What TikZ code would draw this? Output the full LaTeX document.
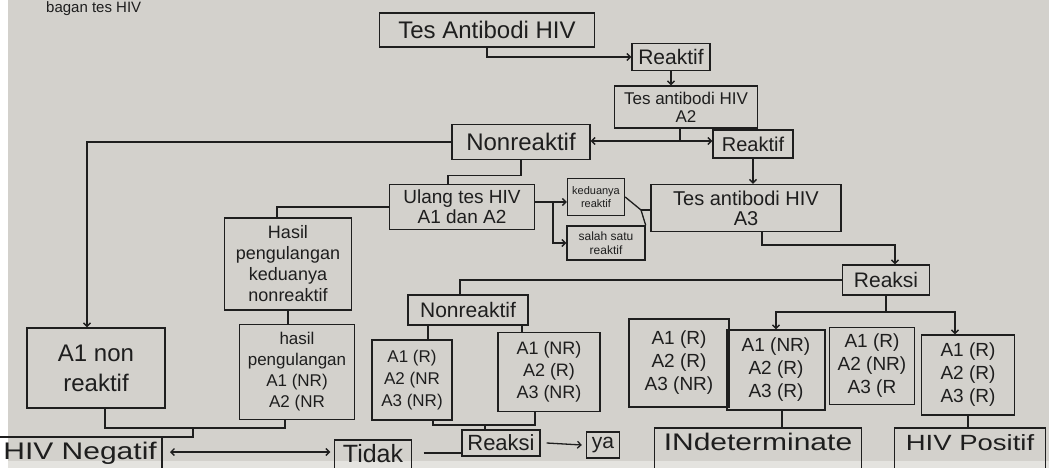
\documentclass[tikz,border=0pt]{standalone}
\usepackage{fontspec}
\setmainfont{Liberation Sans}
\newfontfamily\widefont{Liberation Sans}[FakeStretch=1.25]
\usetikzlibrary{arrows.meta}
\definecolor{board}{HTML}{D3D1CC}
\definecolor{boardlow}{HTML}{E4E3DF}
\definecolor{ink}{HTML}{1E1E1E}
\newcommand\myfs[2]{\fontsize{#1}{#2}\selectfont}
\tikzset{
  bx/.style={draw=ink, line width=1.4pt, align=center, inner sep=1pt, text=ink},
  openbx/.style={align=center, inner sep=1pt, text=ink, text depth=24pt, text height=21pt},
  ln/.style={draw=ink, line width=1.3pt},
  arr/.style={ln, -{Straight Barb[length=3.5pt,width=7pt]}},
  arrb/.style={ln, {Straight Barb[length=3.5pt,width=7pt]}-{Straight Barb[length=3.5pt,width=7pt]}},
}
\begin{document}
\begin{tikzpicture}[x=1pt,y=-1pt]
\fill[white] (0,0) rectangle (1049,468);
\fill[board] (8,0) rectangle (1049,461);
\fill[boardlow] (8,461) rectangle (1049,468);
\useasboundingbox (0,0) rectangle (1049,468);
\clip (0,0) rectangle (1049,468);

% title
\node[anchor=north west, text=ink, inner sep=1pt, font=\myfs{15}{16}] (title) at (45,0) {bagan tes HIV};

% top chain
\node[bx, minimum width=215, minimum height=34, font=\myfs{24}{26}] (tAnti) at (487,30) {Tes Antibodi HIV};
\node[bx, minimum width=78, minimum height=27, font=\myfs{21}{22}] (r1) at (671,57) {Reaktif};
\node[bx, minimum width=143, minimum height=42, font=\myfs{17}{18}] (tA2) at (686,107) {Tes antibodi HIV\\A2};
\node[bx, minimum width=138, minimum height=35, font=\myfs{24}{26}] (nr1) at (521,142) {Nonreaktif};
\node[bx, minimum width=80, minimum height=28, font=\myfs{20}{22}] (r2) at (753,144) {Reaktif};
\node[bx, minimum width=190, minimum height=47, font=\myfs{20}{20}] (tA3) at (746,208) {Tes antibodi HIV\\A3};
\node[bx, minimum width=145, minimum height=45, font=\myfs{19}{20}] (ulang) at (462,207) {Ulang tes HIV\\A1 dan A2};
\node[bx, minimum width=57, minimum height=37, font=\myfs{11}{13}] (kedua) at (596,197) {keduanya\\reaktif};
\node[bx, minimum width=78, minimum height=34, font=\myfs{12}{14}] (salah) at (606,243) {salah satu\\reaktif};
\node[bx, minimum width=87, minimum height=30, font=\myfs{21}{22}] (reaksi1) at (886,280) {Reaksi};

% left branch
\node[bx, minimum width=127, minimum height=92, font=\myfs{18}{21}] (hasil1) at (288,264) {Hasil\\pengulangan\\keduanya\\nonreaktif};
\node[bx, minimum width=138, minimum height=80, font=\myfs{24}{30}] (a1non) at (96,368) {A1 non\\reaktif};
\node[bx, minimum width=115, minimum height=95, font=\myfs{17}{21}] (hasil2) at (297,372) {hasil\\pengulangan\\A1 (NR)\\A2 (NR};

% middle branch
\node[bx, minimum width=120, minimum height=30, font=\myfs{21}{22}] (nr2) at (468,310) {Nonreaktif};
\node[bx, minimum width=80, minimum height=80, font=\myfs{17}{22}] (c1) at (412,380) {A1 (R)\\A2 (NR\\A3 (NR)};
\node[bx, minimum width=102, minimum height=79, font=\myfs{18}{22}] (c2) at (549,372) {A1 (NR)\\A2 (R)\\A3 (NR)};

% right branch
\node[bx, minimum width=100, minimum height=88, font=\myfs{19}{23}] (d1) at (679,363) {A1 (R)\\A2 (R)\\A3 (NR)};
\node[bx, minimum width=98, minimum height=80, font=\myfs{19}{23}] (d2) at (776,370) {A1 (NR)\\A2 (R)\\A3 (R)};
\node[bx, minimum width=85, minimum height=77, font=\myfs{19}{23}] (d3) at (872,366) {A1 (R)\\A2 (NR)\\A3 (R};
\node[bx, minimum width=93, minimum height=80, font=\myfs{19}{23}] (d4) at (968,375) {A1 (R)\\A2 (R)\\A3 (R)};

% bottom row
\node[openbx, anchor=north east, inner xsep=5pt, font=\widefont\myfs{24}{26}] (neg) at (162,437) {HIV Negatif};
\draw[ln] (neg.south west) |- (neg.north east) -- (neg.south east);
\node[openbx, anchor=north, minimum width=77, font=\myfs{25}{26}] (tidak) at (373,440) {Tidak};
\draw[ln] (tidak.south west) |- (tidak.north east) -- (tidak.south east);
\node[bx, minimum width=78, minimum height=26, font=\myfs{22}{24}] (reaksi2) at (501,443) {Reaksi};
\node[bx, minimum width=33, minimum height=26, font=\myfs{21}{22}] (ya) at (603,445) {ya};
\node[openbx, anchor=north, minimum width=207, font=\widefont\myfs{24}{26}] (indet) at (758,428) {INdeterminate};
\draw[ln] (indet.south west) |- (indet.north east) -- (indet.south east);
\node[openbx, anchor=north, minimum width=150, font=\widefont\myfs{22}{24}] (pos) at (970,428) {HIV Positif};
\draw[ln] (pos.south west) |- (pos.north east) -- (pos.south east);

% connectors: top
\draw[arr] (tAnti.south) |- (r1.west);
\draw[arr] (r1.south) -- (r1.south |- tA2.north);
\coordinate (j1) at (680,141);
\draw[ln] (tA2.south -| j1) -- (j1);
\draw[arr] (j1) -- (j1 -| nr1.east);
\draw[arr] (j1) -- (j1 -| r2.west);
\draw[arr] (r2.south) -- (r2.south |- tA3.north);
\coordinate (j5) at (895,245);
\draw[arr] ([xshift=16pt]tA3.south) |- (j5) -- (j5 |- reaksi1.north);

% connectors: reaksi (top) to four boxes
\coordinate (j2) at (886,312);
\draw[ln] (reaksi1.south) -- (j2);
\draw[arr] (j2) -| (d2.north);
\draw[arr] (j2) -| ([xshift=-13pt]d4.north);
\draw[ln] (reaksi1.west) -| ([xshift=-8pt]nr2.north);

% nonreaktif to ulang and A1 non reaktif
\draw[ln] (nr1.south) -- ++(0,15) -| ([xshift=-14pt]ulang.north);
\draw[arr] (nr1.west) -| ([xshift=-9pt]a1non.north);
\draw[ln] (ulang.west) -| ([xshift=-11pt]hasil1.north);

% ulang to keduanya / salah satu
\coordinate (j3) at (553,202);
\draw[ln] (ulang.east |- j3) -- (j3);
\draw[arr] (j3) -- (j3 -| kedua.west);
\draw[arr] (j3) |- (salah.west);
\coordinate (j4) at (641,210);
\draw[ln] (kedua.east) -- (j4);
\draw[ln] (salah.north east) -- (j4);
\draw[ln] (j4) -- (j4 -| tA3.west);

% left branch down
\draw[ln] (hasil1.south) -- (hasil1.south |- hasil2.north);
\coordinate (jn) at (193,428);
\draw[ln] ([xshift=9pt]a1non.south) |- (jn);
\draw[ln] ([xshift=-12pt]hasil2.south) |- (jn);
\draw[ln] (jn) |- (neg.north east);

% middle branch
\draw[ln] ([xshift=-40pt]nr2.south) -- ([xshift=-40pt]nr2.south |- c1.north);
\draw[ln] ([xshift=54pt]nr2.south) -- ([xshift=54pt]nr2.south |- c2.north);
\coordinate (jr) at (485,425);
\draw[ln] ([xshift=21pt]c1.south) |- (jr);
\draw[ln] ([xshift=-14pt]c2.south) |- (jr);
\draw[ln] (jr) -- (jr |- reaksi2.north);

% bottom row connectors
\draw[arrb] ([xshift=8pt]neg.east |- 0,452) -- ([xshift=-4pt]tidak.west |- 0,452);
\draw[ln] ([xshift=12pt]tidak.east |- 0,453) -- (reaksi2.west |- 0,453);
\draw[arr] ([xshift=6pt]reaksi2.east) -- ([xshift=-4pt]ya.west);
\draw[ln] ([xshift=6pt]d2.south) -- ([xshift=6pt]d2.south |- indet.north);
\draw[ln] (d4.south) -- (d4.south |- pos.north);
\end{tikzpicture}
\end{document}
